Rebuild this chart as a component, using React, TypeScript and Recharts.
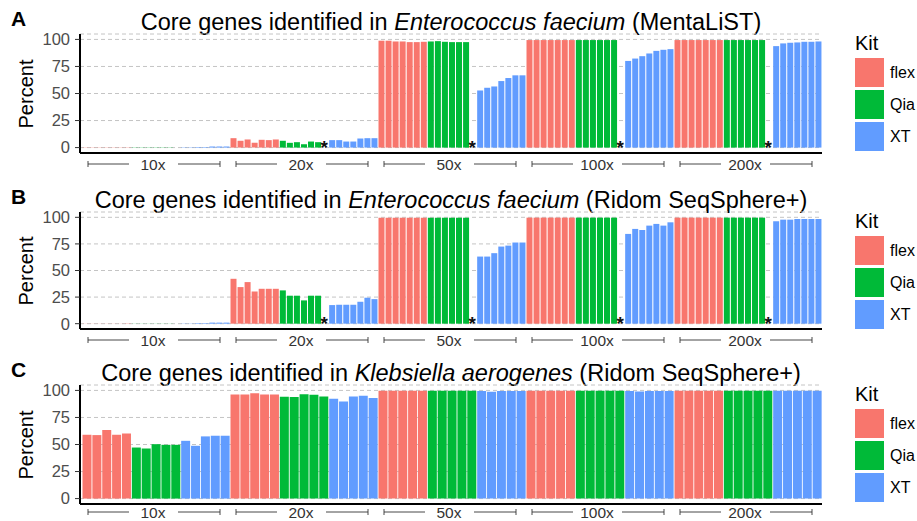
import React from 'react';
import { ComposedChart, Bar, Scatter, XAxis, YAxis, CartesianGrid, Cell } from 'recharts';

const COVERAGES = ['10x', '20x', '50x', '100x', '200x'];
const KITS = ['flex', 'Qia', 'XT'];
const KIT_COLORS: Record<string, string> = { flex: '#F8766D', Qia: '#00BA38', XT: '#619CFF' };
const Y_TICKS = [0, 25, 50, 75, 100];

// one row per coverage; null = sample that failed (drawn as "*")
// A: E. faecium, MentaLiST
const A_FLEX = [
  [0.2, 0.2, 0.2, 0.2, 0.2, 0.2, 0.2],
  [8.7, 6.3, 7.5, 4.4, 7.2, 6.9, 7.5],
  [98.8, 98.8, 98.1, 98.1, 97.5, 97.5, 97.8],
  [99.4, 99.4, 99.4, 99.4, 99.4, 99.4, 99.4],
  [99.4, 99.4, 99.4, 99.4, 99.4, 99.4, 99.4],
];
const A_QIA = [
  [0.2, 0.2, 0.2, 0.2, 0.2, 0.2, null],
  [6.3, 4.4, 5.0, 3.1, 5.6, 5.0, null],
  [98.1, 98.4, 97.8, 97.5, 97.5, 97.5, null],
  [99.4, 99.4, 99.4, 99.4, 99.4, 99.4, null],
  [99.4, 99.4, 99.4, 99.4, 99.4, 99.4, null],
];
const A_XT = [
  [0.3, 0.3, 0.5, 0.5, 1.0, 1.0, 1.0],
  [6.9, 6.9, 5.6, 5.6, 8.4, 8.7, 8.7],
  [52.8, 55.3, 56.5, 61.5, 64.3, 66.8, 66.8],
  [80.1, 82.3, 84.5, 87.0, 89.4, 90.4, 91.0],
  [93.8, 96.3, 96.9, 97.2, 97.8, 97.8, 98.1],
];

// B: E. faecium, Ridom SeqSphere+
const B_FLEX = [
  [0.1, 0.1, 0.1, 0.1, 0.1, 0.1, 0.1],
  [42.2, 34.4, 39.1, 30.3, 32.8, 32.8, 32.8],
  [99.6, 99.6, 99.6, 99.6, 99.6, 99.6, 99.6],
  [99.7, 99.7, 99.7, 99.7, 99.7, 99.7, 99.7],
  [99.7, 99.7, 99.7, 99.7, 99.7, 99.7, 99.7],
];
const B_QIA = [
  [0.1, 0.1, 0.1, 0.1, 0.1, 0.1, null],
  [31.3, 26.3, 26.3, 21.9, 26.3, 26.3, null],
  [99.6, 99.6, 99.6, 99.6, 99.6, 99.6, null],
  [99.7, 99.7, 99.7, 99.7, 99.7, 99.7, null],
  [99.7, 99.7, 99.7, 99.7, 99.7, 99.7, null],
];
const B_XT = [
  [0.2, 0.2, 0.5, 0.5, 1.0, 1.0, 1.0],
  [17.5, 17.8, 17.8, 17.8, 20.6, 24.4, 23.1],
  [63.1, 63.1, 66.3, 72.5, 73.4, 76.3, 76.3],
  [84.4, 89.1, 88.1, 92.2, 93.8, 92.2, 95.3],
  [96.3, 97.8, 97.8, 98.4, 98.4, 98.4, 98.4],
];

// C: K. aerogenes, Ridom SeqSphere+
const C_FLEX = [
  [59.0, 58.7, 63.4, 59.0, 60.2],
  [96.2, 96.2, 97.4, 96.2, 96.2],
  [99.7, 99.7, 99.7, 99.7, 99.7],
  [99.7, 99.7, 99.7, 99.7, 99.7],
  [99.7, 99.7, 99.7, 99.7, 99.7],
];
const C_QIA = [
  [47.2, 46.3, 50.3, 49.7, 49.7],
  [94.2, 94.0, 96.5, 96.0, 94.3],
  [99.6, 99.6, 99.6, 99.6, 99.6],
  [99.7, 99.7, 99.7, 99.7, 99.7],
  [99.7, 99.7, 99.7, 99.7, 99.7],
];
const C_XT = [
  [53.4, 48.8, 57.5, 58.1, 58.1],
  [92.3, 89.7, 94.3, 95.0, 93.0],
  [99.5, 98.8, 99.5, 99.5, 99.5],
  [99.5, 99.0, 99.5, 99.5, 99.5],
  [99.7, 99.7, 99.7, 99.7, 99.7],
];

const STAR_COVERAGES = ['20x', '50x', '100x', '200x'];

const FONT = '"Liberation Sans", Arial, Helvetica, sans-serif';
const PLOT_W = 740;

type Row = { id: string; cov: string; kit: string; value: number | null; star: number | null };

function buildRows(flex: (number | null)[][], qia: (number | null)[][], xt: (number | null)[][], stars: string[]) {
  const rows: Row[] = [];
  COVERAGES.forEach((cov, ci) => {
    [flex, qia, xt].forEach((series, ki) => {
      series[ci].forEach((v, i) => {
        rows.push({
          id: `${cov}-${KITS[ki]}-${i}`,
          cov,
          kit: KITS[ki],
          value: v,
          star: v === null && stars.includes(cov) ? 0 : null,
        });
      });
    });
  });
  return rows;
}

const StarShape = (props: any) => {
  const { cx, cy } = props;
  if (cx == null || cy == null) return <g />;
  return (
    <text x={cx - 1} y={cy + 6} textAnchor="middle" fontSize={19} fontWeight="bold" fill="#111" fontFamily={FONT}>
      *
    </text>
  );
};

function Panel({ letter, species, tool, rows, top, plotHeight, labelDy = 17 }: {
  letter: string; species: string; tool: string; rows: Row[]; top: number; plotHeight: number; labelDy?: number;
}) {
  const slots = rows.length / COVERAGES.length;
  const band = PLOT_W / rows.length;
  const s = (slots * band) / 148;

  const CoverageTick = (props: any) => {
    const { x, y, index, payload } = props;
    if (index % slots !== Math.floor(slots / 2)) return <g />;
    const row = rows.find((r) => r.id === payload.value);
    const L = x - 68 * s;
    const R = x + 64 * s;
    const ly = y + labelDy - 6;
    return (
      <g stroke="#333" strokeWidth={0.9}>
        <line x1={L} x2={x - 27 * s} y1={ly} y2={ly} />
        <line x1={L} x2={L} y1={ly - 3} y2={ly + 3} />
        <line x1={x + 22 * s} x2={R} y1={ly} y2={ly} />
        <line x1={R} x2={R} y1={ly - 3} y2={ly + 3} />
        <text x={x - 3} y={y + labelDy} textAnchor="middle" fontSize={15.5} fill="#333" stroke="none" fontFamily={FONT}>
          {row ? row.cov : ''}
        </text>
      </g>
    );
  };

  return (
    <div style={{ position: 'absolute', left: 0, top, width: 917, height: plotHeight + 58 }}>
      <div style={{ position: 'absolute', left: 11, top: 8, fontSize: 21, fontWeight: 'bold', lineHeight: 1 }}>{letter}</div>
      <div style={{ position: 'absolute', left: 80, width: 742, top: 9, textAlign: 'center', fontSize: 23.5, lineHeight: '26px', whiteSpace: 'nowrap' }}>
        Core genes identified in <i>{species}</i> ({tool})
      </div>
      <div
        style={{
          position: 'absolute', left: 26, top: 34 + plotHeight / 2, fontSize: 20, lineHeight: 1,
          transform: 'translate(-50%, -50%) rotate(-90deg)', whiteSpace: 'nowrap',
        }}
      >
        Percent
      </div>
      <ComposedChart width={917} height={plotHeight + 58} data={rows} margin={{ top: 34, right: 95, bottom: 4, left: 0 }} barCategoryGap={0.5}>
        <CartesianGrid vertical={false} stroke="#c4c4c4" strokeDasharray="4 3" />
        <XAxis
          dataKey="id"
          interval={0}
          height={20}
          padding={{ left: 2, right: 0 }}
          tickSize={0}
          tickMargin={0}
          tickLine={false}
          axisLine={{ stroke: '#000', strokeWidth: 2 }}
          tick={CoverageTick}
        />
        <YAxis
          type="number"
          domain={[-5, 105]}
          ticks={Y_TICKS}
          width={80}
          tickSize={5}
          tickMargin={5}
          axisLine={{ stroke: '#000', strokeWidth: 2 }}
          tickLine={{ stroke: '#333' }}
          tick={{ fontSize: 16.5, fill: '#4D4D4D', fontFamily: FONT }}
        />
        <Bar dataKey="value" isAnimationActive={false}>
          {rows.map((r) => (
            <Cell key={r.id} fill={KIT_COLORS[r.kit]} />
          ))}
        </Bar>
        <Scatter dataKey="star" isAnimationActive={false} shape={StarShape} />
      </ComposedChart>
      <div style={{ position: 'absolute', left: 855, top: 33, fontSize: 20, lineHeight: 1 }}>Kit</div>
      {KITS.map((k, i) => (
        <div key={k} style={{ position: 'absolute', left: 855, top: 58 + i * 32, height: 29, display: 'flex', alignItems: 'center' }}>
          <div style={{ width: 29, height: 29, background: KIT_COLORS[k] }} />
          <span style={{ marginLeft: 6, fontSize: 16 }}>{k}</span>
        </div>
      ))}
    </div>
  );
}

export default function App() {
  const rowsA = buildRows(A_FLEX, A_QIA, A_XT, STAR_COVERAGES);
  const rowsB = buildRows(B_FLEX, B_QIA, B_XT, STAR_COVERAGES);
  const rowsC = buildRows(C_FLEX, C_QIA, C_XT, []);
  return (
    <div style={{ position: 'absolute', left: 0, top: 0, width: 917, height: 521, overflow: 'hidden', background: '#fff', fontFamily: FONT, color: '#000' }}>
      <Panel letter="A" species="Enterococcus faecium" tool="MentaLiST" rows={rowsA} top={0} plotHeight={119} />
      <Panel letter="B" species="Enterococcus faecium" tool="Ridom SeqSphere+" rows={rowsB} top={178} plotHeight={117} />
      <Panel letter="C" species="Klebsiella aerogenes" tool="Ridom SeqSphere+" rows={rowsC} top={351} plotHeight={119} labelDy={14} />
    </div>
  );
}
